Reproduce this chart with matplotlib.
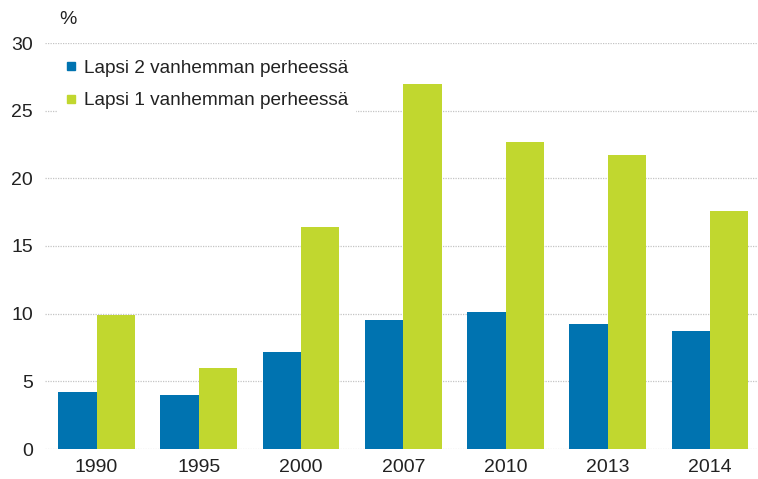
import numpy as np
import matplotlib
matplotlib.use("Agg")
import matplotlib.pyplot as plt
from matplotlib.lines import Line2D

# Vuodet ja osuudet (%)
years = ["1990", "1995", "2000", "2007", "2010", "2013", "2014"]
two_parent = [4.2, 4.0, 7.2, 9.5, 10.1, 9.2, 8.7]
one_parent = [9.9, 6.0, 16.4, 27.0, 22.7, 21.7, 17.6]
series_labels = ["Lapsi 2 vanhemman perheessä", "Lapsi 1 vanhemman perheessä"]

BLUE = "#0073B0"
GREEN = "#C1D72F"
TEXT = "#222222"

plt.rcParams["font.family"] = ["Liberation Sans", "DejaVu Sans"]

W, H = 758, 479
fig = plt.figure(figsize=(W / 100, H / 100), dpi=100)

left, right = 45.4, 758
bottom, top = 449, 43
ax = fig.add_axes([left / W, 1 - bottom / H, (right - left) / W, (bottom - top) / H])

x = np.arange(len(years))
bw = 0.375
ax.bar(x - bw / 2, two_parent, bw, color=BLUE, zorder=3)
ax.bar(x + bw / 2, one_parent, bw, color=GREEN, zorder=3)

ax.set_ylim(0, 30)
ax.set_xlim(-0.5, -0.5 + (right - left) / 102.25)
ax.set_yticks(range(0, 31, 5))
ax.set_xticks(x)
ax.set_xticklabels(years)
ax.tick_params(axis="both", length=0, labelsize=14, colors=TEXT)
ax.tick_params(axis="y", pad=9)
ax.tick_params(axis="x", pad=7)
ax.yaxis.grid(True, linestyle=(0, (1, 1)), color="#C4C4C4", linewidth=0.9, zorder=0)
for s in ax.spines.values():
    s.set_visible(False)

fig.text(59 / W, 1 - 20 / H, "%", fontsize=14, color=TEXT, va="center", ha="left")

# legenda valkoisella taustalla, peittää 25-viivan
handles = [
    Line2D([], [], marker="s", linestyle="none", markersize=6, color=BLUE),
    Line2D([], [], marker="s", linestyle="none", markersize=6, color=GREEN),
]
leg = ax.legend(handles, series_labels, loc="upper left",
                bbox_to_anchor=(58 / W, 1 - 52 / H), bbox_transform=fig.transFigure,
                frameon=True, fontsize=13.7, handlelength=0.6, handletextpad=0.35,
                labelspacing=0.8, borderpad=0.4, borderaxespad=0, labelcolor=TEXT,
                fancybox=False, framealpha=1)
leg.get_frame().set_facecolor("white")
leg.get_frame().set_edgecolor("none")

fig.savefig("out.png", dpi=100)
